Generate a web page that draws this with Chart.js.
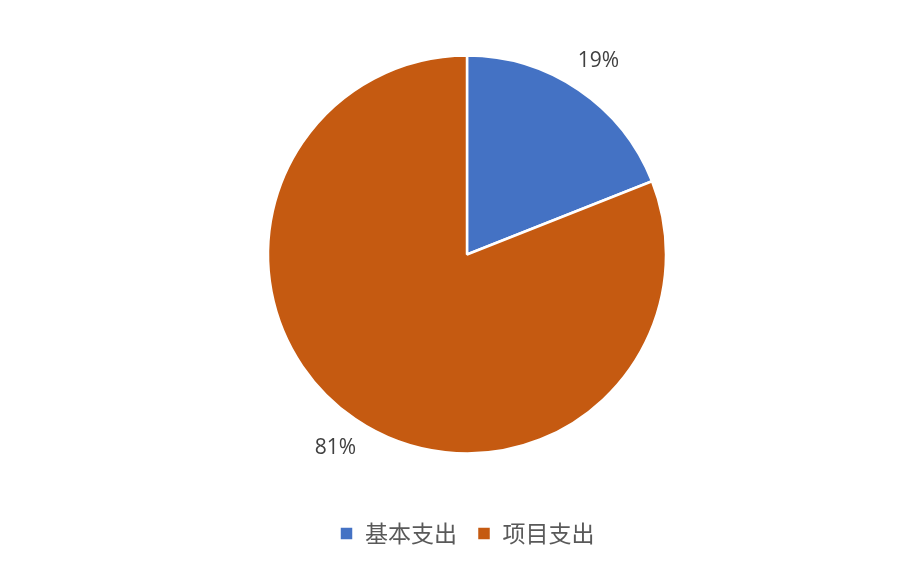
<!DOCTYPE html>
<html>
<head>
<meta charset="utf-8">
<script src="https://cdn.jsdelivr.net/npm/chart.js@4.4.1/dist/chart.umd.min.js"></script>
<style>
  html, body { margin: 0; padding: 0; background: #fff; }
  #wrap { width: 916px; height: 569px; }
</style>
</head>
<body>
<div id="wrap"><canvas id="pie" width="916" height="569"></canvas></div>
<script>
// ── Data ─────────────────────────────────────────────
const categories = ['基本支出', '项目支出'];
const shares     = [19, 81];
const colors     = ['#4472C4', '#C55A11'];

// ── Percent labels outside the slices ────────────────
const outsideLabels = {
  id: 'outsideLabels',
  afterDatasetsDraw(chart) {
    const { ctx } = chart;
    const meta = chart.getDatasetMeta(0);
    ctx.save();
    ctx.font = "21px 'Open Sans', 'Noto Sans CJK SC', sans-serif";
    ctx.fillStyle = '#404040';
    ctx.textAlign = 'center';
    ctx.textBaseline = 'middle';
    meta.data.forEach((arc, i) => {
      const { x, y, startAngle, endAngle, outerRadius } = arc.getProps(['x', 'y', 'startAngle', 'endAngle', 'outerRadius'], true);
      const mid = (startAngle + endAngle) / 2;
      const d = outerRadius + 35;
      ctx.fillText(shares[i] + '%', x + Math.cos(mid) * d, y + Math.sin(mid) * d);
    });
    ctx.restore();
  }
};

new Chart(document.getElementById('pie'), {
  type: 'pie',
  data: {
    labels: categories,
    datasets: [{
      data: shares,
      backgroundColor: colors,
      borderColor: '#ffffff',
      borderWidth: 2.5,
    }]
  },
  options: {
    responsive: false,
    animation: false,
    radius: 199,
    layout: { padding: { top: 7, bottom: 14, left: 18, right: 0 } },
    plugins: {
      tooltip: { enabled: false },
      legend: {
        position: 'bottom',
        labels: {
          boxWidth: 14,
          boxHeight: 14,
          padding: 20,
          color: '#595959',
          font: { size: 23, family: "'Noto Sans CJK SC', sans-serif" },
        }
      }
    }
  },
  plugins: [outsideLabels]
});
</script>
</body>
</html>
